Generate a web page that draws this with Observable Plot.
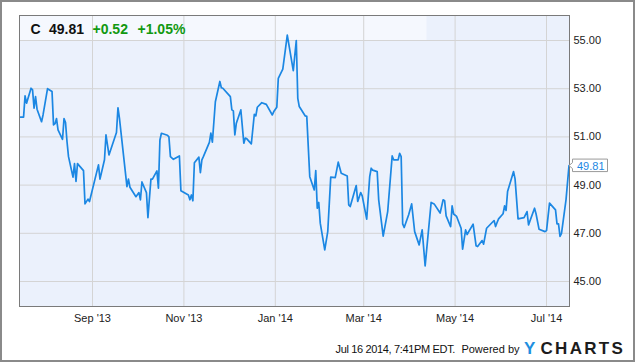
<!DOCTYPE html>
<html><head><meta charset="utf-8">
<script src="https://cdn.jsdelivr.net/npm/d3@7"></script>
<script src="https://cdn.jsdelivr.net/npm/@observablehq/plot@0.6"></script>
<style>html,body{margin:0;padding:0;background:#fff;} svg{display:block;}</style>
</head><body><div id="chart"></div>
<script>
const dates = ["2013-07-15","2013-07-17","2013-07-18","2013-07-19","2013-07-22","2013-07-23","2013-07-24","2013-07-25","2013-07-26","2013-07-29","2013-07-30","2013-08-02","2013-08-05","2013-08-06","2013-08-07","2013-08-08","2013-08-09","2013-08-12","2013-08-13","2013-08-14","2013-08-15","2013-08-16","2013-08-19","2013-08-20","2013-08-21","2013-08-22","2013-08-26","2013-08-27","2013-08-29","2013-08-30","2013-09-05","2013-09-06","2013-09-09","2013-09-10","2013-09-12","2013-09-17","2013-09-18","2013-09-19","2013-09-24","2013-09-25","2013-09-26","2013-09-30","2013-10-02","2013-10-03","2013-10-04","2013-10-07","2013-10-08","2013-10-10","2013-10-11","2013-10-14","2013-10-15","2013-10-16","2013-10-17","2013-10-21","2013-10-22","2013-10-23","2013-10-25","2013-10-29","2013-10-30","2013-11-04","2013-11-05","2013-11-06","2013-11-07","2013-11-08","2013-11-11","2013-11-12","2013-11-13","2013-11-14","2013-11-18","2013-11-19","2013-11-20","2013-11-22","2013-11-25","2013-11-26","2013-11-27","2013-12-02","2013-12-03","2013-12-04","2013-12-05","2013-12-06","2013-12-09","2013-12-11","2013-12-12","2013-12-13","2013-12-16","2013-12-18","2013-12-19","2013-12-20","2013-12-23","2013-12-26","2013-12-30","2013-12-31","2014-01-02","2014-01-03","2014-01-06","2014-01-09","2014-01-13","2014-01-15","2014-01-16","2014-01-17","2014-01-21","2014-01-22","2014-01-24","2014-01-27","2014-01-28","2014-01-29","2014-01-30","2014-01-31","2014-02-03","2014-02-05","2014-02-07","2014-02-10","2014-02-12","2014-02-14","2014-02-18","2014-02-19","2014-02-20","2014-02-24","2014-02-25","2014-02-27","2014-02-28","2014-03-03","2014-03-05","2014-03-06","2014-03-07","2014-03-10","2014-03-11","2014-03-14","2014-03-17","2014-03-20","2014-03-21","2014-03-24","2014-03-25","2014-03-26","2014-03-27","2014-03-28","2014-03-31","2014-04-02","2014-04-04","2014-04-07","2014-04-09","2014-04-11","2014-04-15","2014-04-17","2014-04-21","2014-04-23","2014-04-24","2014-04-25","2014-04-28","2014-04-29","2014-04-30","2014-05-02","2014-05-05","2014-05-06","2014-05-08","2014-05-09","2014-05-13","2014-05-15","2014-05-16","2014-05-19","2014-05-20","2014-05-22","2014-05-27","2014-05-28","2014-05-29","2014-05-30","2014-06-02","2014-06-03","2014-06-04","2014-06-05","2014-06-09","2014-06-10","2014-06-12","2014-06-16","2014-06-18","2014-06-19","2014-06-23","2014-06-24","2014-06-26","2014-06-30","2014-07-01","2014-07-03","2014-07-07","2014-07-08","2014-07-09","2014-07-10","2014-07-11","2014-07-14","2014-07-16"];
const closes = [51.82,51.82,52.70,52.40,53.02,52.95,52.19,52.67,52.15,51.63,51.91,53.00,52.88,51.50,51.55,51.76,51.29,50.90,51.76,51.60,50.80,50.18,49.33,49.89,49.15,49.89,49.60,48.22,48.42,48.32,49.84,49.25,50.05,51.08,50.25,51.18,52.21,51.77,48.94,49.25,48.91,48.52,48.69,48.39,49.13,48.69,47.65,49.25,49.25,49.59,48.87,50.87,51.15,51.07,51.00,50.18,50.07,50.21,48.77,48.59,48.39,48.59,48.35,49.93,50.16,49.52,50.05,50.18,50.77,51.16,50.78,52.46,53.30,53.04,53.02,52.67,52.12,52.08,51.08,51.57,52.12,50.74,50.95,50.92,50.71,51.94,51.87,52.23,52.42,52.35,51.91,52.05,52.23,53.43,53.81,55.22,53.75,55.00,52.60,52.26,51.87,51.85,49.35,48.80,49.60,48.04,48.28,47.42,46.31,47.07,49.33,49.31,49.95,49.49,49.38,48.18,48.11,48.98,48.32,48.69,48.55,47.59,49.35,49.70,49.62,49.56,48.39,46.88,47.90,50.21,50.05,50.05,50.32,50.18,47.39,47.24,47.77,48.22,47.07,46.52,47.14,45.65,48.28,48.22,47.84,48.39,48.35,47.72,47.28,48.14,47.80,47.70,47.21,46.34,47.14,46.95,47.38,46.48,46.45,46.70,46.55,47.21,47.53,47.28,47.45,47.60,47.81,48.14,47.95,48.73,49.56,49.26,47.60,47.65,47.90,47.35,48.04,47.81,47.17,47.07,47.11,48.25,47.97,47.39,47.39,46.87,47.00,48.39,49.81];
const xTickDates = ["2013-09-01","2013-11-01","2014-01-01","2014-03-01","2014-05-01","2014-07-01"];
const xTickLabels = ["Sep '13","Nov '13","Jan '14","Mar '14","May '14","Jul '14"];
const yTicks = [45, 47, 49, 51, 53, 55];
const ticker = "C";
const lastPrice = "49.81";
const change = "+0.52";
const pctChange = "+1.05%";
const timestamp = "Jul 16 2014, 7:41PM EDT.";
const poweredBy = "Powered by";
const logoY = "Y";
const logoRest = "CHARTS";

const data = dates.map((d, i) => ({date: new Date(d), close: closes[i]}));
const last = data[data.length - 1];
const xTicks = xTickDates.map(d => new Date(d));
const labelOf = new Map(xTicks.map((d, i) => [+d, xTickLabels[i]]));

const FONT = "'Liberation Sans', Arial, sans-serif";
const LINE = "#1b87e3";

const headerBand = (index, scales, values, dims) => {
  const g = d3.create("svg:g");
  g.append("rect")
    .attr("x", dims.marginLeft + 0.5).attr("y", dims.marginTop + 0.5)
    .attr("width", 407).attr("height", scales.y(55) - dims.marginTop)
    .attr("fill", "#f5f8fe");
  return g.node();
};

const callout = (index, scales, values, dims) => {
  const px = scales.x(last.date) + 0.5, py = scales.y(last.close) + 0.5;
  const g = d3.create("svg:g").attr("text-anchor", "start");
  g.append("path")
    .attr("d", `M${px},${py}L${px+3.5},${py-3}V${py-6.5}H${px+38.5}V${py+6}H${px+3.5}V${py+3}Z`)
    .attr("fill", "#fff").attr("stroke", "#9a9a9a").attr("stroke-width", 1);
  g.append("text").attr("x", px + 8).attr("y", py).attr("dy", "0.36em")
    .attr("font-family", FONT).attr("font-size", 11).attr("fill", LINE)
    .text(last.close.toFixed(2));
  return g.node();
};

const chrome = (index, scales, values, dims) => {
  const g = d3.create("svg:g").attr("font-family", FONT).attr("text-anchor", "start");
  g.append("rect").attr("x", 1).attr("y", 1).attr("width", dims.width - 2).attr("height", dims.height - 2)
    .attr("fill", "none").attr("stroke", "#8a8a8a").attr("stroke-width", 2);
  // header text
  const hy = 34;
  const h = g.append("g").attr("font-size", 14).attr("font-weight", "bold");
  h.append("text").attr("x", 30.5).attr("y", hy).attr("fill", "#111").text(ticker);
  h.append("text").attr("x", 49).attr("y", hy).attr("fill", "#111").text(lastPrice);
  h.append("text").attr("x", 92.5).attr("y", hy).attr("fill", "#119911").text(change);
  h.append("text").attr("x", 137.5).attr("y", hy).attr("fill", "#119911").text(pctChange);
  // footer
  const fy = 353;
  g.append("text").attr("x", 455).attr("y", fy).attr("text-anchor", "end")
    .attr("font-size", 11).attr("fill", "#111").attr("letter-spacing", -0.35).text(timestamp);
  g.append("text").attr("x", 519.5).attr("y", fy).attr("text-anchor", "end")
    .attr("font-size", 11).attr("fill", "#111").text(poweredBy);
  g.append("text").attr("x", 524).attr("y", 354).attr("font-size", 17).attr("font-weight", "bold")
    .attr("fill", "#1f8fe0").text(logoY);
  g.append("text").attr("x", 540.5).attr("y", 354).attr("font-size", 17).attr("font-weight", "bold")
    .attr("letter-spacing", 2.3).attr("fill", "#1c1c1c").text(logoRest);
  return g.node();
};

const chart = Plot.plot({
  width: 635,
  height: 362,
  marginLeft: 19,
  marginRight: 66,
  marginTop: 15,
  marginBottom: 56,
  style: {fontFamily: FONT, fontSize: "11px", background: "#fff", color: "#222"},
  x: {type: "utc", domain: [new Date("2013-07-14T07:00Z"), new Date("2014-07-16T08:00Z")]},
  y: {domain: [43.963, 56.037]},
  marks: [
    Plot.frame({fill: "#ebf1fc", stroke: null}),
    headerBand,
    Plot.gridX(xTicks, {stroke: "#d4d4d4", strokeOpacity: 1}),
    Plot.gridY(yTicks, {stroke: "#d4d4d4", strokeOpacity: 1}),
    Plot.line(data, {x: "date", y: "close", stroke: LINE, strokeWidth: 1.7, strokeLinejoin: "round"}),
    Plot.frame({stroke: "#7a7a7a"}),
    Plot.axisX(xTicks, {tickSize: 0, tickPadding: 8, fontSize: 11, fill: "#222", tickFormat: d => labelOf.get(+d), label: null}),
    Plot.axisY(yTicks, {anchor: "right", tickSize: 0, tickPadding: 4, fontSize: 11, fill: "#222", tickFormat: d => d.toFixed(2), label: null}),
    callout,
    chrome
  ]
});
document.getElementById("chart").appendChild(chart);
</script>
</body></html>
